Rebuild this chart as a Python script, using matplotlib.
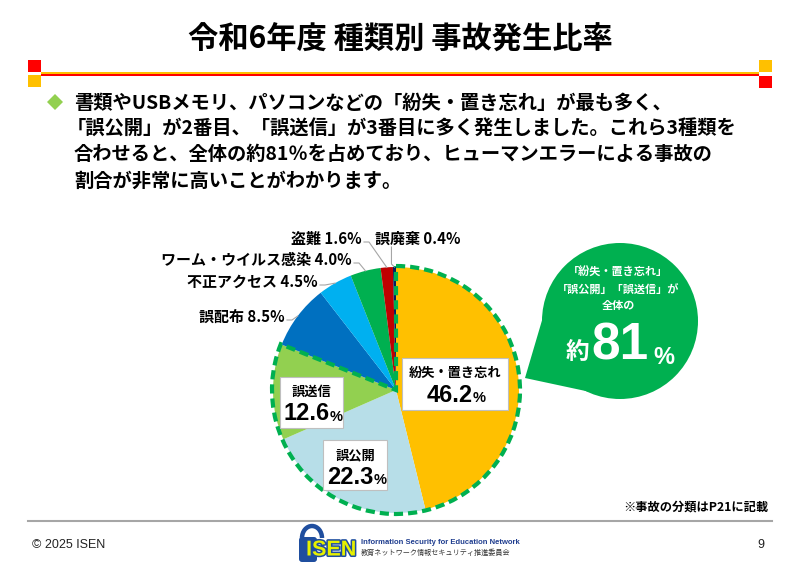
import matplotlib
matplotlib.use('Agg')
import matplotlib.pyplot as plt
from matplotlib.patches import Rectangle, Wedge, Circle, Polygon, FancyBboxPatch, Arc
import matplotlib.patheffects as pe
import numpy as np

plt.rcParams['font.family'] = ['Noto Sans CJK JP', 'DejaVu Sans']

# ---------------- data ----------------
title = '令和6年度 種類別 事故発生比率'
body_lines = [
    '書類やUSBメモリ、パソコンなどの「紛失・置き忘れ」が最も多く、',
    '「誤公開」が2番目、「誤送信」が3番目に多く発生しました。これら3種類を',
    '合わせると、全体の約81％を占めており、ヒューマンエラーによる事故の',
    '割合が非常に高いことがわかります。',
]
categories = ['紛失・置き忘れ', '誤公開', '誤送信', '誤配布', '不正アクセス',
              'ワーム・ウイルス感染', '盗難', '誤廃棄']
values = [46.2, 22.3, 12.6, 8.5, 4.5, 4.0, 1.6, 0.4]
colors = ['#FFC000', '#B7DEE8', '#92D050', '#0070C0', '#00B0F0',
          '#00B050', '#C00000', '#002060']
highlight_n = 3
bubble_lines = ['「紛失・置き忘れ」', '「誤公開」「誤送信」が', '全体の']
footnote = '※事故の分類はP21に記載'
copyright_text = '© 2025 ISEN'
page_no = '9'
logo_en = 'Information Security for Education Network'
logo_jp = '教育ネットワーク情報セキュリティ推進委員会'

# ---------------- figure ----------------
W, H = 800, 565
fig = plt.figure(figsize=(8, 5.65), dpi=100)
ax = fig.add_axes([0, 0, 1, 1])

NARROW = ['Liberation Sans Narrow', 'Liberation Sans', 'DejaVu Sans']
ARIAL = ['Liberation Sans', 'DejaVu Sans']

# header
ax.text(400, 40, title, ha='center', va='center', fontsize=21.8,
        fontweight='bold', color='black')
ax.add_patch(Rectangle((41, 71.5), 718, 2.8, color='#FFC000', lw=0))
ax.add_patch(Rectangle((41, 74.3), 718, 1.6, color='#FF0000', lw=0))
ax.add_patch(Rectangle((28, 60), 13, 12, color='#FF0000', lw=0))
ax.add_patch(Rectangle((28, 75), 13, 12, color='#FFC000', lw=0))
ax.add_patch(Rectangle((759, 60), 13, 12, color='#FFC000', lw=0))
ax.add_patch(Rectangle((759, 76), 13, 12, color='#FF0000', lw=0))

# body text
ax.add_patch(Polygon([(55, 94), (63, 102), (55, 110), (47, 102)],
                     closed=True, color='#92D050', lw=0))
body_x = [74, 67, 74, 74]
body_y = [103, 129, 155, 181]
for s, bx, by in zip(body_lines, body_x, body_y):
    ax.text(bx, by, s, ha='left', va='center', fontsize=13.9,
            fontweight='bold', color='black')

# ---------------- pie ----------------
cx, cy, R = 396, 390, 123
wedges, _ = ax.pie(values, colors=colors, startangle=-90, counterclock=True,
                   center=(cx, cy), radius=R,
                   wedgeprops=dict(linewidth=0))
ax.set_xlim(0, W)
ax.set_ylim(H, 0)
ax.axis('off')

frac = sum(values[:highlight_n]) / sum(values)
ax.add_patch(Wedge((cx, cy), R + 1, -90, -90 + 360 * frac, fill=False,
                   edgecolor='#00B050', lw=3, linestyle=(0, (2.2, 1.2)),
                   zorder=4))

# inner labels (box x, y, w, h)
inner_boxes = [(402, 358, 106, 52), (323, 440, 64, 50), (280, 377, 63, 51)]
for i, (bx, by, bw, bh) in enumerate(inner_boxes):
    ax.add_patch(Rectangle((bx, by), bw, bh, facecolor='white',
                           edgecolor='#BFBFBF', lw=0.8, zorder=5))
    mx = bx + bw / 2
    ax.text(mx, by + 15, categories[i], ha='center', va='center',
            fontsize=9.5, fontweight='bold', zorder=6)
    t = ax.text(mx - 5, by + 37, f'{values[i]:.1f}', ha='center', va='center',
                fontsize=17, fontweight='bold', family=NARROW, zorder=6)
    ax.annotate('%', xy=(1, 0.08), xycoords=t, ha='left', va='bottom',
                fontsize=10.5, fontweight='bold', family=ARIAL, zorder=6)

# outer labels
outer_pos = [(285, 317, 'right'), (318, 282, 'right'), (352, 260, 'right'),
             (362, 239, 'right'), (375, 239, 'left')]
for k, (lx, ly, ha) in enumerate(outer_pos):
    i = highlight_n + k
    w = wedges[i]
    th = np.deg2rad((w.theta1 + w.theta2) / 2)
    px, py = cx + R * np.cos(th), cy + R * np.sin(th)
    ax.text(lx, ly, f'{categories[i]} {values[i]:.1f}%', ha=ha, va='center',
            fontsize=10.8, fontweight='bold', color='black')
    if ha == 'right':
        sx, sy = lx + 2, ly + 3
        ax.plot([sx, sx + 5, px], [sy, sy, py], color='#A6A6A6', lw=0.8,
                zorder=2)
    else:
        ax.plot([px - 3, px - 3, px], [ly + 8, py - 3, py], color='#A6A6A6',
                lw=0.8, zorder=2)

# ---------------- callout bubble ----------------
bc = '#00B050'
ax.add_patch(Circle((620, 321), 78, color=bc, lw=0, zorder=3))
ax.add_patch(Polygon([(525, 378), (548, 300), (595, 393)], closed=True,
                     color=bc, lw=0, zorder=3))
for s, yy in zip(bubble_lines, [272, 290, 305]):
    ax.text(618, yy, s, ha='center', va='center', fontsize=8,
            fontweight='bold', color='white', zorder=6)
ax.text(577, 352, '約', ha='center', va='center', fontsize=17,
        fontweight='bold', color='white', zorder=6)
ax.text(620, 346, f'{round(sum(values[:highlight_n]))}', ha='center',
        va='center', fontsize=37, fontweight='bold', family=ARIAL,
        color='white', zorder=6)
ax.text(664, 357, '%', ha='center', va='center', fontsize=17,
        fontweight='bold', family=ARIAL, color='white', zorder=6)

# ---------------- footer ----------------
ax.text(768, 507, footnote, ha='right', va='center', fontsize=8.8,
        fontweight='bold', color='black')
ax.plot([28, 772], [521, 521], color='#A6A6A6', lw=1.5)
ax.text(32, 545, copyright_text, ha='left', va='center', fontsize=9,
        family=ARIAL, color='#222222')
ax.text(764, 545, page_no, ha='right', va='center', fontsize=9,
        family=ARIAL, color='#222222')

# logo
lc = '#1F4E9F'
ax.add_patch(Arc((312, 538), 20, 24, theta1=180, theta2=360, color=lc, lw=3.2))
ax.add_patch(FancyBboxPatch((299, 537), 18, 25, boxstyle='round,pad=0,rounding_size=3',
                            color=lc, lw=0))
ax.text(331, 550, 'ISEN', ha='center', va='center', fontsize=15.5,
        fontweight='bold', family=NARROW, color='#E6F000',
        path_effects=[pe.withStroke(linewidth=2.2, foreground=lc)])
ax.text(361, 542, logo_en, ha='left', va='center', fontsize=5.5,
        fontweight='bold', family=ARIAL, color='#1F3D8F')
ax.text(361, 553, logo_jp, ha='left', va='center', fontsize=5.1,
        color='#333333')

fig.savefig('out.png', dpi=100)
